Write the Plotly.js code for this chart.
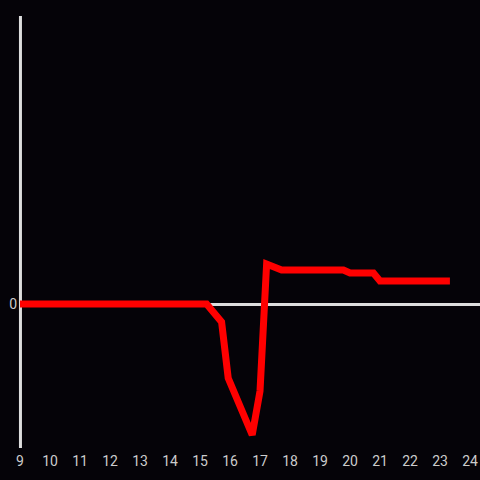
<!DOCTYPE html>
<html>
<head>
<meta charset="utf-8">
<script src="https://cdn.plot.ly/plotly-3.0.1.min.js"></script>
<style>html,body{margin:0;padding:0;background:#050308;}</style>
</head>
<body>
<div id="chart" style="width:480px;height:480px;"></div>
<script>
const hours = [9, 15.22, 15.72, 15.94, 16.74, 17.0, 17.22, 17.72, 19.78, 20.0, 20.78, 21.0, 23.33];
const values = [0, 0, -18, -74, -131, -87, 40, 34, 34, 31, 31, 23, 23];
const xTicks = [9,10,11,12,13,14,15,16,17,18,19,20,21,22,23,24];

Plotly.newPlot('chart', [{
  x: hours, y: values, type: 'scatter', mode: 'lines',
  line: {color: '#ff0000', width: 7, shape: 'linear'},
  cliponaxis: false, hoverinfo: 'skip'
}], {
  width: 480, height: 480,
  paper_bgcolor: '#050308', plot_bgcolor: '#050308',
  margin: {l: 20, r: 0, t: 16, b: 32, pad: 0},
  showlegend: false,
  font: {family: 'Roboto, sans-serif', size: 14, color: '#cccccc'},
  shapes: [{
    type: 'line', xref: 'paper', yref: 'paper', x0: 0.001, x1: 0.001, y0: 0, y1: 1,
    line: {color: '#dddddd', width: 3}, layer: 'below'
  }],
  xaxis: {
    range: [9, 24.333], tickvals: xTicks, ticktext: xTicks.map(String),
    showgrid: false, zeroline: false, showline: false, ticks: '',
    ticklabelstandoff: 3,
    tickfont: {size: 14, color: '#cccccc'}, fixedrange: true
  },
  yaxis: {
    range: [-144, 288], tickvals: [0], ticktext: ['0'],
    showgrid: false, zeroline: true, zerolinecolor: '#dddddd', zerolinewidth: 3,
    showline: false, ticks: '', ticklabelstandoff: 2,
    layer: 'below traces', tickfont: {size: 14, color: '#cccccc'}, fixedrange: true
  }
}, {staticPlot: true});
</script>
</body>
</html>
